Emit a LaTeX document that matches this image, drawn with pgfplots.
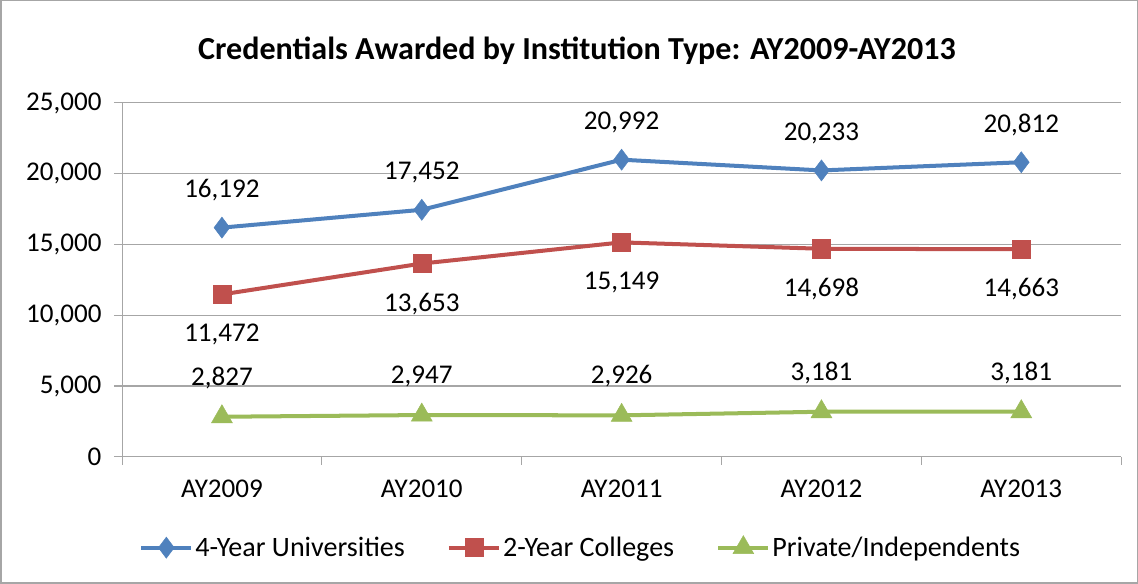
\documentclass[border=0pt]{standalone}
\usepackage{pgfplots}
\pgfplotsset{compat=1.18}
\usepackage{fontspec}
\setmainfont{Carlito}
\definecolor{cblue}{HTML}{4F81BD}
\definecolor{cred}{HTML}{C0504D}
\definecolor{cgreen}{HTML}{9BBB59}
\definecolor{gridg}{HTML}{A6A6A6}
\begin{document}
\begin{tikzpicture}[x=1pt,y=1pt]
\draw[gridg, line width=1.5pt] (2,-2) rectangle (1136,-583);
\node[font=\fontsize{32}{36}\selectfont\bfseries] at (577,-52) {Credentials Awarded by Institution Type: AY2009-AY2013};
\begin{axis}[
  at={(123pt,-457pt)}, anchor=south west,
  scale only axis, width=997pt, height=353pt,
  xmin=-0.5, xmax=4.5, ymin=0, ymax=25000,
  xtick={0,1,2,3,4}, xticklabels={AY2009,AY2010,AY2011,AY2012,AY2013},
  minor xtick={-0.5,0.5,1.5,2.5,3.5,4.5},
  ytick={0,5000,10000,15000,20000,25000},
  scaled y ticks=false,
  /pgf/number format/fixed, /pgf/number format/1000 sep={,}, /pgf/number format/assume math mode=true,
  ymajorgrids, major grid style={gridg, line width=1pt},
  axis x line*=bottom, axis y line*=left,
  axis line style={gridg, line width=1pt},
  x axis line style={-}, y axis line style={-},
  major x tick style={draw=none},
  minor x tick style={gridg, line width=1pt},
  major y tick style={gridg, line width=1pt},
  tick align=outside, major tick length=8pt, minor tick length=8pt,
  tick label style={font=\fontsize{27}{30}\selectfont, text=black},
  xticklabel style={yshift=-12pt},
  yticklabel style={xshift=-9pt},
  clip=false,
  nodes near coords style={font=\fontsize{27}{30}\selectfont, text=black, anchor=center},
  legend columns=3,
  legend style={at={(0.459,-0.257)}, anchor=center, draw=none, font=\fontsize{28}{32}\selectfont,
     /tikz/every even column/.append style={column sep=40pt}},
  legend image code/.code={\draw[#1, mark repeat=2, mark phase=2] plot coordinates {(0pt,0pt) (25pt,0pt) (50pt,0pt)};},
]
\addplot[cblue, line width=4pt, mark=diamond*, mark size=10.5pt, mark options={line width=0.5pt, fill=cblue},
  nodes near coords, every node near coord/.append style={yshift=37pt}] coordinates {
  (0,16192) (1,17452) (2,20992) (3,20233) (4,20812)};
\addlegendentry{4-Year Universities}
\addplot[cred, line width=4pt, mark=square*, mark size=9pt, mark options={line width=0.5pt, fill=cred},
  nodes near coords, every node near coord/.append style={yshift=-40pt}] coordinates {
  (0,11472) (1,13653) (2,15149) (3,14698) (4,14663)};
\addlegendentry{2-Year Colleges}
\addplot[cgreen, line width=4pt, mark=triangle*, mark size=12pt, mark options={line width=0.5pt, fill=cgreen},
  nodes near coords, every node near coord/.append style={yshift=39pt}] coordinates {
  (0,2827) (1,2947) (2,2926) (3,3181) (4,3181)};
\addlegendentry{Private/Independents}
\end{axis}
\end{tikzpicture}
\end{document}
